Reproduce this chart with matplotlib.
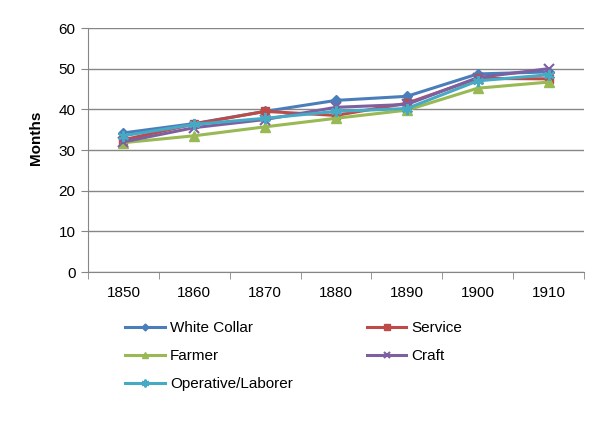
import matplotlib.pyplot as plt

plt.rcParams['font.family'] = ['Liberation Sans', 'DejaVu Sans']

years = ['1850', '1860', '1870', '1880', '1890', '1900', '1910']
white_collar = [34.2, 36.5, 39.5, 42.2, 43.2, 48.7, 49.2]
service = [32.5, 36.4, 39.5, 38.5, 41.5, 47.6, 47.5]
farmer = [31.8, 33.5, 35.7, 37.8, 39.8, 45.2, 46.7]
craft = [32.0, 35.5, 37.5, 40.5, 41.2, 47.8, 50.0]
operative = [33.5, 36.3, 37.8, 39.5, 40.2, 47.0, 48.5]

series = [
    ('White Collar', white_collar, '#4A7EBB', 'D', 5),
    ('Service', service, '#BE4B48', 's', 6),
    ('Farmer', farmer, '#98B954', '^', 7),
    ('Craft', craft, '#7D60A0', 'x', 7),
    ('Operative/Laborer', operative, '#46AAC5', (6, 2, 0), 8),
]

fig = plt.figure(figsize=(6.08, 4.28), dpi=100)
ax = fig.add_axes([88 / 608, 1 - 272 / 428, (584 - 88) / 608, (272 - 28) / 428])

x = list(range(len(years)))
handles = {}
for name, vals, color, marker, ms in series:
    mew = 1.5 if marker in ('x',) or isinstance(marker, tuple) else 1
    h, = ax.plot(x, vals, color=color, linewidth=2.2, marker=marker, markersize=ms,
                 markeredgewidth=mew, markeredgecolor=color, label=name)
    handles[name] = h

ax.set_xlim(-0.5, len(years) - 0.5)
ax.set_ylim(0, 60)
ax.set_yticks(range(0, 61, 10))
ax.set_xticks(x)
ax.set_xticklabels(years)
ax.set_xticks([i - 0.5 for i in range(len(years) + 1)], minor=True)
ax.tick_params(axis='x', which='major', length=0, pad=10, labelsize=11)
ax.tick_params(axis='x', which='minor', length=5, color='#868686')
ax.tick_params(axis='y', length=5, color='#868686', labelsize=11, pad=4)
ax.grid(axis='y', color='#868686', linewidth=1)
ax.set_axisbelow(True)
for s in ['top', 'right']:
    ax.spines[s].set_visible(False)
ax.spines['left'].set_color('#868686')
ax.spines['bottom'].set_color('#868686')
ax.set_ylabel('Months', fontsize=11, fontweight='bold')
ax.yaxis.set_label_coords(-0.09, 0.55)

order = ['White Collar', 'Farmer', 'Operative/Laborer', 'Service', 'Craft']
fig.legend([handles[n] for n in order], order, ncol=2, frameon=False,
           loc='upper left', bbox_to_anchor=(125 / 608, 1 - 321 / 428),
           borderpad=0, borderaxespad=0, markerscale=0.7,
           fontsize=11, handlelength=2.6, columnspacing=4.85, labelspacing=0.92,
           handletextpad=0.33)

fig.savefig('out.png', dpi=100)
